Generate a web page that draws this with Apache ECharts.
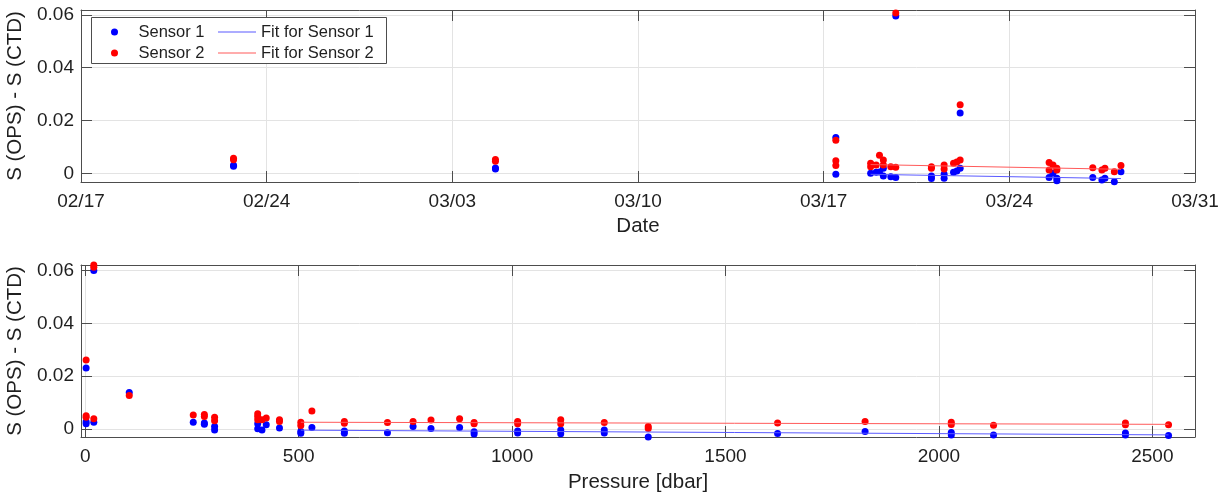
<!DOCTYPE html>
<html>
<head>
<meta charset="utf-8">
<script src="https://cdn.jsdelivr.net/npm/echarts@6/dist/echarts.min.js"></script>
<style>
  html, body { margin: 0; padding: 0; background: #fff; }
  #main { width: 1229px; height: 495px; }
</style>
</head>
<body>
<div id="main"></div>
<script>
// tick values
var yTicks = [0, 0.02, 0.04, 0.06];
var dateTicks = ['2021-02-17T00:00', '2021-02-24T00:00', '2021-03-03T00:00', '2021-03-10T00:00',
                 '2021-03-17T00:00', '2021-03-24T00:00', '2021-03-31T00:00'];
var pressureTicks = [0, 500, 1000, 1500, 2000, 2500];

// S(OPS) - S(CTD) against date
var sensor1ByDate = [
  ['2021-02-22T18:00', 0.0030], ['2021-02-22T18:00', 0.0027],
  ['2021-03-04T15:00', 0.0016], ['2021-03-04T15:00', 0.0020],
  ['2021-03-17T11:00', 0.0135], ['2021-03-17T11:00', -0.0004],
  ['2021-03-18T18:30', 0.0000], ['2021-03-18T23:30', 0.0004],
  ['2021-03-19T02:30', 0.0005],
  ['2021-03-19T06:00', 0.0019], ['2021-03-19T06:00', -0.0010],
  ['2021-03-19T12:45', -0.0013],
  ['2021-03-19T17:15', -0.0016], ['2021-03-19T17:15', 0.0595],
  ['2021-03-21T01:30', -0.0010], ['2021-03-21T01:30', -0.0020],
  ['2021-03-21T13:00', -0.0004], ['2021-03-21T13:00', -0.0019],
  ['2021-03-21T21:30', 0.0004], ['2021-03-22T00:30', 0.0009],
  ['2021-03-22T03:30', 0.0019], ['2021-03-22T03:30', 0.0228],
  ['2021-03-25T12:00', -0.0016], ['2021-03-25T15:30', 0.0000],
  ['2021-03-25T19:00', -0.0019], ['2021-03-25T19:00', -0.0028],
  ['2021-03-27T03:30', -0.0016], ['2021-03-27T11:45', -0.0025],
  ['2021-03-27T14:30', -0.0019], ['2021-03-27T23:00', -0.0032],
  ['2021-03-28T05:00', 0.0006]
];
var sensor2ByDate = [
  ['2021-02-22T18:00', 0.0057], ['2021-02-22T18:00', 0.0051],
  ['2021-03-04T15:00', 0.0046], ['2021-03-04T15:00', 0.0052],
  ['2021-03-17T11:00', 0.0125], ['2021-03-17T11:00', 0.0047], ['2021-03-17T11:00', 0.0029],
  ['2021-03-18T18:30', 0.0038], ['2021-03-18T18:30', 0.0025],
  ['2021-03-18T23:30', 0.0031], ['2021-03-19T02:30', 0.0068],
  ['2021-03-19T06:00', 0.0050], ['2021-03-19T06:00', 0.0031],
  ['2021-03-19T12:45', 0.0025],
  ['2021-03-19T17:15', 0.0023], ['2021-03-19T17:15', 0.0620], ['2021-03-19T17:15', 0.0607],
  ['2021-03-21T01:30', 0.0025], ['2021-03-21T01:30', 0.0019],
  ['2021-03-21T13:00', 0.0031], ['2021-03-21T13:00', 0.0016],
  ['2021-03-21T21:30', 0.0038], ['2021-03-22T00:30', 0.0043],
  ['2021-03-22T03:30', 0.0050], ['2021-03-22T03:30', 0.0259],
  ['2021-03-25T12:00', 0.0041], ['2021-03-25T12:00', 0.0012],
  ['2021-03-25T15:30', 0.0031],
  ['2021-03-25T19:00', 0.0019], ['2021-03-25T19:00', 0.0012],
  ['2021-03-27T03:30', 0.0021], ['2021-03-27T11:45', 0.0012],
  ['2021-03-27T14:30', 0.0019], ['2021-03-27T23:00', 0.0006],
  ['2021-03-28T05:00', 0.0029]
];
var fit1ByDate = [['2021-03-18T18:30', -0.0004], ['2021-03-28T05:00', -0.0020]];
var fit2ByDate = [['2021-03-18T18:30', 0.0033], ['2021-03-28T05:00', 0.0015]];

// S(OPS) - S(CTD) against pressure
var sensor1ByPressure = [
  [2, 0.0231], [2, 0.0027], [2, 0.0019], [20, 0.0600], [20, 0.0025],
  [103, 0.0138], [253, 0.0025], [279, 0.0022], [279, 0.0017],
  [303, 0.0009], [303, -0.0004], [404, 0.0019], [404, 0.0000],
  [414, -0.0004], [424, 0.0015], [455, 0.0003],
  [505, -0.0010], [505, -0.0017], [531, 0.0005],
  [607, -0.0008], [607, -0.0017], [708, -0.0015], [768, 0.0009],
  [810, 0.0001], [877, 0.0005], [911, -0.0011], [911, -0.0020],
  [1013, -0.0008], [1013, -0.0016], [1114, -0.0004], [1114, -0.0019],
  [1216, -0.0004], [1216, -0.0016], [1319, -0.0031], [1622, -0.0018],
  [1827, -0.0010], [2029, -0.0014], [2029, -0.0023], [2128, -0.0023],
  [2437, -0.0016], [2437, -0.0023], [2538, -0.0025]
];
var sensor2ByPressure = [
  [2, 0.0261], [2, 0.0050], [2, 0.0044], [20, 0.0621], [20, 0.0612], [20, 0.0038],
  [103, 0.0126], [253, 0.0052], [279, 0.0054], [279, 0.0047],
  [303, 0.0044], [303, 0.0031], [404, 0.0057], [404, 0.0047], [404, 0.0034],
  [414, 0.0034], [424, 0.0041], [455, 0.0034], [455, 0.0028],
  [505, 0.0025], [505, 0.0013], [531, 0.0068],
  [607, 0.0028], [607, 0.0021], [708, 0.0024], [768, 0.0028],
  [810, 0.0033], [877, 0.0038], [911, 0.0024], [911, 0.0019],
  [1013, 0.0028], [1013, 0.0019], [1114, 0.0034], [1114, 0.0019],
  [1216, 0.0024], [1319, 0.0009], [1319, 0.0001], [1622, 0.0022],
  [1827, 0.0028], [2029, 0.0025], [2029, 0.0016], [2128, 0.0014],
  [2437, 0.0022], [2437, 0.0015], [2538, 0.0015]
];
var fit1ByPressure = [[505, -0.0005], [2538, -0.0023]];
var fit2ByPressure = [[505, 0.0025], [2538, 0.0017]];

var FONT = 'Liberation Sans';
var TXT = '#1f1f1f';
var AX = '#4d4d4d';
var GRIDC = '#e3e3e3';

function toMs(s) { return Date.parse(s + ':00Z'); }
function pad(n) { return (n < 10 ? '0' : '') + n; }
function dateFmt(v) { var d = new Date(v); return pad(d.getUTCMonth() + 1) + '/' + pad(d.getUTCDate()); }
function yFmt(v) { return String(+(+v).toFixed(2)); }
function pFmt(v) { return String(Math.round(v)); }
function byDate(arr) { return arr.map(function (p) { return [toMs(p[0]), p[1]]; }); }

var dateTickMs = dateTicks.map(toMs);

// one axis; main = with labels + grid, otherwise just the box side with ticks
function xAx(grid, pos, min, max, ticks, fmt, main, name, gap) {
  return {
    type: 'value', gridIndex: grid, position: pos, min: min, max: max,
    axisLine: { show: true, onZero: false, lineStyle: { color: AX, width: 1 } },
    axisTick: { show: true, inside: true, length: 11, customValues: ticks, lineStyle: { color: AX } },
    axisLabel: { show: main, customValues: ticks, formatter: fmt, margin: 10, color: TXT, fontSize: 19, fontFamily: FONT },
    splitLine: { show: main, lineStyle: { color: GRIDC, width: 1 } },
    name: main ? name : '', nameLocation: 'middle', nameGap: gap,
    nameTextStyle: { color: TXT, fontSize: 20.5, fontFamily: FONT }
  };
}
function yAx(grid, pos, min, max, main) {
  return {
    type: 'value', gridIndex: grid, position: pos, min: min, max: max,
    axisLine: { show: true, onZero: false, lineStyle: { color: AX, width: 1 } },
    axisTick: { show: true, inside: true, length: 11, customValues: yTicks, lineStyle: { color: AX } },
    axisLabel: { show: main, customValues: yTicks, formatter: yFmt, margin: 7, color: TXT, fontSize: 19, fontFamily: FONT },
    splitLine: { show: main, lineStyle: { color: GRIDC, width: 1 } },
    name: main ? 'S (OPS) - S (CTD)' : '', nameLocation: 'middle', nameGap: 48,
    nameTextStyle: { color: TXT, fontSize: 20.5, fontFamily: FONT }
  };
}

function dots(name, data, color, xi, yi) {
  return { name: name, type: 'scatter', data: data, xAxisIndex: xi, yAxisIndex: yi,
    symbol: 'circle', symbolSize: 7, itemStyle: { color: color, opacity: 1 }, silent: true };
}
function fitLine(name, data, color, xi, yi) {
  return { name: name, type: 'line', data: data, xAxisIndex: xi, yAxisIndex: yi,
    symbol: 'none', showSymbol: false, lineStyle: { color: color, width: 1 },
    itemStyle: { color: color }, silent: true, z: 3 };
}

var chart = echarts.init(document.getElementById('main'), null, { renderer: 'canvas' });

var option = {
  backgroundColor: '#fff',
  animation: false,
  grid: [
    { left: 81, right: 34, top: 10, height: 172, containLabel: false, outerBoundsMode: 'none' },
    { left: 81, right: 34, top: 265, height: 172, containLabel: false, outerBoundsMode: 'none' }
  ],
  xAxis: [
    xAx(0, 'bottom', dateTickMs[0], dateTickMs[dateTickMs.length - 1], dateTickMs, dateFmt, true, 'Date', 34),
    xAx(0, 'top', dateTickMs[0], dateTickMs[dateTickMs.length - 1], dateTickMs, dateFmt, false, '', 0),
    xAx(1, 'bottom', -10, 2600, pressureTicks, pFmt, true, 'Pressure [dbar]', 35),
    xAx(1, 'top', -10, 2600, pressureTicks, pFmt, false, '', 0)
  ],
  yAxis: [
    yAx(0, 'left', -0.0033, 0.0618, true),
    yAx(0, 'right', -0.0033, 0.0618, false),
    yAx(1, 'left', -0.0031, 0.0621, true),
    yAx(1, 'right', -0.0031, 0.0621, false)
  ],
  graphic: [{
    type: 'rect', left: 91, top: 17, z: 10,
    shape: { width: 295, height: 46 },
    style: { fill: '#fff', stroke: AX, lineWidth: 1 }
  }],
  legend: [
    { orient: 'vertical', left: 106, top: 18.5, z: 20, itemWidth: 32, itemHeight: 7, itemGap: 4,
      data: [{ name: 'Sensor 1', icon: 'circle' }, { name: 'Sensor 2', icon: 'circle' }],
      textStyle: { color: TXT, fontSize: 16.5, fontFamily: FONT, padding: [0, 0, 0, 3] } },
    { orient: 'vertical', left: 213, top: 18.5, z: 20, itemWidth: 38, itemHeight: 1.2, itemGap: 4,
      data: [{ name: 'Fit for Sensor 1', icon: 'rect' }, { name: 'Fit for Sensor 2', icon: 'rect' }],
      textStyle: { color: TXT, fontSize: 16.5, fontFamily: FONT } }
  ],
  series: [
    dots('Sensor 1', byDate(sensor1ByDate), '#0000ff', 0, 0),
    dots('Sensor 2', byDate(sensor2ByDate), '#ff0000', 0, 0),
    fitLine('Fit for Sensor 1', byDate(fit1ByDate), '#5a5aff', 0, 0),
    fitLine('Fit for Sensor 2', byDate(fit2ByDate), '#ff5a5a', 0, 0),
    dots('Sensor 1', sensor1ByPressure, '#0000ff', 2, 2),
    dots('Sensor 2', sensor2ByPressure, '#ff0000', 2, 2),
    fitLine('Fit for Sensor 1', fit1ByPressure, '#5a5aff', 2, 2),
    fitLine('Fit for Sensor 2', fit2ByPressure, '#ff5a5a', 2, 2)
  ]
};

chart.setOption(option);
window.onresize = chart.resize;
</script>
</body>
</html>
